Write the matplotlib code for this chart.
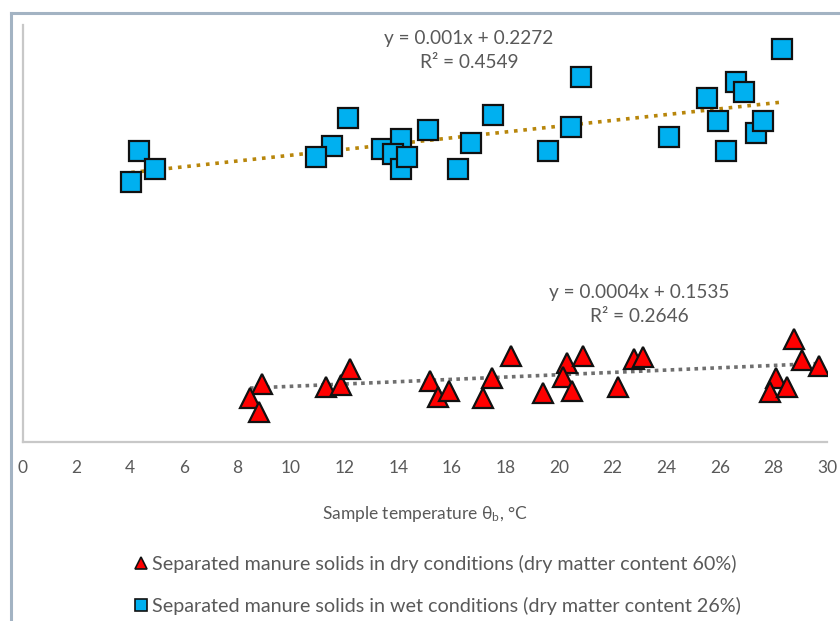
import matplotlib

matplotlib.use("Agg")
import matplotlib.pyplot as plt
from matplotlib.lines import Line2D

plt.rcParams["font.family"] = ["Lato", "DejaVu Sans"]
plt.rcParams["mathtext.default"] = "regular"

GREY_TXT = "#595959"
AXIS = "#c8c8c8"
FRAME = "#a3b3c3"
BLUE = "#00b0f0"
RED = "#ff0000"
GOLD = "#b8860b"
DOTGREY = "#6f6f6f"

# wet conditions (dry matter 26%)
wet_t = [4.34, 4.91, 4.04, 12.12, 11.54, 10.92, 13.41, 14.10, 13.79, 14.10,
         14.32, 15.12, 17.53, 16.72, 16.22, 20.82, 20.44, 19.60, 24.10, 25.51,
         25.92, 26.23, 26.60, 26.90, 27.34, 27.62, 28.31]
wet_v = [0.2388, 0.2323, 0.2280, 0.2500, 0.2405, 0.2365, 0.2394, 0.2427,
         0.2376, 0.2324, 0.2365, 0.2459, 0.2511, 0.2415, 0.2324, 0.2643,
         0.2468, 0.2388, 0.2436, 0.2570, 0.2490, 0.2388, 0.2623, 0.2591,
         0.2448, 0.2490, 0.2738]

# dry conditions (dry matter 60%)
dry_t = [8.91, 8.47, 8.81, 11.31, 11.85, 12.20, 15.19, 15.50, 15.91, 17.51,
         17.18, 18.20, 19.39, 20.29, 20.91, 20.16, 20.50, 22.21, 22.81, 23.12,
         28.78, 29.08, 29.70, 28.10, 27.87, 28.50]
dry_v = [0.1583, 0.1534, 0.1488, 0.1572, 0.1580, 0.1636, 0.1593, 0.1539,
         0.1560, 0.1605, 0.1534, 0.1680, 0.1551, 0.1657, 0.1680, 0.1606,
         0.1560, 0.1572, 0.1668, 0.1677, 0.1737, 0.1666, 0.1645, 0.1603,
         0.1557, 0.1574]

# trendline coefficients as printed on the chart
wet_slope, wet_icpt, wet_r2 = 0.001, 0.2272, 0.4549
dry_slope, dry_icpt, dry_r2 = 0.0004, 0.1535, 0.2646

W, H = 840, 621
fig = plt.figure(figsize=(W / 100, H / 100), dpi=100)
ax = fig.add_axes([23 / W, 1 - 442 / H, (827 - 23) / W, (442 - 25) / H])

# trendlines over the data range
wx = [min(wet_t), max(wet_t)]
ax.plot(wx, [wet_slope * x + wet_icpt for x in wx], ls=(0, (1, 1.6)),
        color=GOLD, lw=2.6, zorder=1)
dx = [min(dry_t), max(dry_t)]
ax.plot(dx, [dry_slope * x + dry_icpt for x in dx], ls=(0, (1, 1.2)),
        color=DOTGREY, lw=2.6, zorder=1)

for x, y in zip(wet_t, wet_v):
    ax.plot(x, y, "s", ms=14, mfc=BLUE, mec="#111111", mew=1.6, zorder=3)
for x, y in zip(dry_t, dry_v):
    ax.plot(x, y, "^", ms=15, mfc=RED, mec="#111111", mew=1.6, zorder=3)

ax.set_xlim(0, 30)
ax.set_ylim(0.1383, 0.2821)
ax.set_xticks(range(0, 31, 2))
ax.set_yticks([])
ax.tick_params(axis="x", length=0, pad=13, labelsize=12.5, labelcolor=GREY_TXT)
for s in ("top", "right"):
    ax.spines[s].set_visible(False)
for s in ("left", "bottom"):
    ax.spines[s].set_color(AXIS)
    ax.spines[s].set_linewidth(1.6)

EQ_FS = 13.7
ax.text(16.64, 0.2776, f"y = {wet_slope}x + {wet_icpt}", ha="center",
        va="center", fontsize=EQ_FS, color=GREY_TXT)
ax.text(16.64, 0.2690, f"R² = {wet_r2}", ha="center", va="center",
        fontsize=EQ_FS, color=GREY_TXT)
ax.text(23.0, 0.1897, f"y = {dry_slope}x + {dry_icpt}", ha="center",
        va="center", fontsize=EQ_FS, color=GREY_TXT)
ax.text(23.0, 0.1815, f"R² = {dry_r2}", ha="center", va="center",
        fontsize=EQ_FS, color=GREY_TXT)

fig.text(425 / W, 1 - 514 / H, r"Sample temperature θ$_{b}$, °C",
         ha="center", va="center", fontsize=12.5, color=GREY_TXT)

handles = [
    Line2D([], [], ls="none", marker="^", ms=9, mfc=RED, mec="#111111", mew=1.2),
    Line2D([], [], ls="none", marker="s", ms=8.5, mfc=BLUE, mec="#111111", mew=1.2),
]
labels = [
    "Separated manure solids in dry conditions (dry matter content 60%)",
    "Separated manure solids in wet conditions (dry matter content 26%)",
]
fig.legend(handles, labels, loc="upper left", bbox_to_anchor=(134 / W, 1 - 555 / H),
           frameon=False, fontsize=14.2, labelcolor=GREY_TXT, handlelength=0.7,
           handletextpad=0.2, labelspacing=1.2, borderpad=0, borderaxespad=0)

# outer frame of the screenshot
fig.add_artist(Line2D([10.5 / W, 10.5 / W], [0, 1 - 12.5 / H], color=FRAME, lw=2.2))
fig.add_artist(Line2D([10.5 / W, 1], [1 - 12.5 / H, 1 - 12.5 / H], color=FRAME, lw=2.2))

fig.savefig("out.png", dpi=100)
